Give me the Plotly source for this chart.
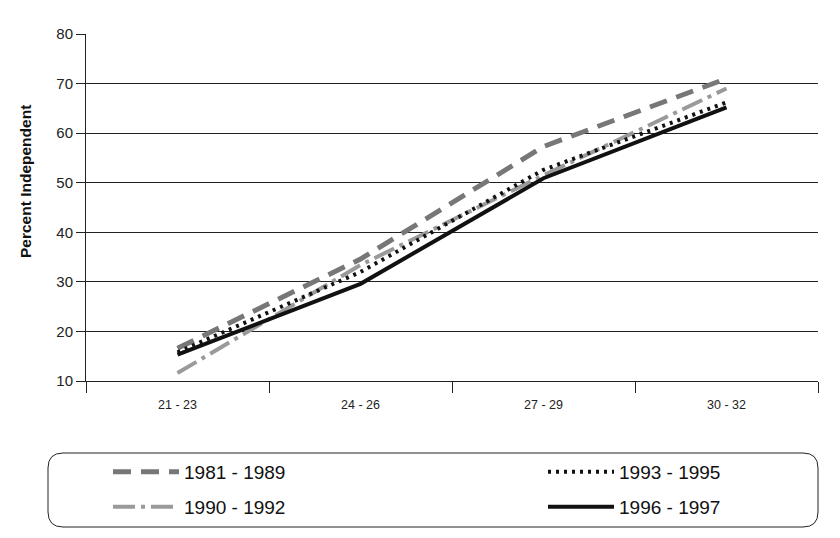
import plotly.graph_objects as go

categories = ["21 - 23", "24 - 26", "27 - 29", "30 - 32"]
s1981_1989 = [16.6, 34.6, 57.3, 71.0]
s1990_1992 = [11.6, 33.4, 51.5, 69.0]
s1993_1995 = [15.8, 32.0, 52.6, 66.2]
s1996_1997 = [15.3, 29.6, 50.9, 65.2]
y_title = "Percent Independent"

series = [
    ("1981 - 1989", s1981_1989, dict(color="#777777", width=5, dash="18px,10px"), "legend"),
    ("1990 - 1992", s1990_1992, dict(color="#9a9a9a", width=4, dash="22px,6px,4px,6px"), "legend3"),
    ("1993 - 1995", s1993_1995, dict(color="#111111", width=4, dash="3px,5px"), "legend2"),
    ("1996 - 1997", s1996_1997, dict(color="#111111", width=4), "legend4"),
]

fig = go.Figure()
for name, vals, line, lg in series:
    fig.add_trace(go.Scatter(x=categories, y=vals, name=name, mode="lines",
                             line=line, legend=lg, showlegend=True))

# page offset of 8px (body margin) compensated in margins
# paper coords: x 0->86px, 1->818px ; y 0->381px, 1->34px (page coords)
def px_x(p):
    return (p - 86) / 732.0
def px_y(p):
    return (381 - p) / 347.0

x0, x1 = px_x(48), px_x(818)
y0, y1 = px_y(527), px_y(453)
rx, ry = 15 / 732.0, 15 / 347.0
path = (f"M{x0+rx},{y1} L{x1-rx},{y1} Q{x1},{y1} {x1},{y1-ry} "
        f"L{x1},{y0+ry} Q{x1},{y0} {x1-rx},{y0} L{x0+rx},{y0} "
        f"Q{x0},{y0} {x0},{y0+ry} L{x0},{y1-ry} Q{x0},{y1} {x0+rx},{y1} Z")
fig.add_shape(type="path", path=path, xref="paper", yref="paper",
              line=dict(color="#222222", width=1))

fig.add_annotation(text=f"<b>{y_title}</b>", xref="paper", yref="paper",
                   x=px_x(25), y=px_y(182), textangle=-90, showarrow=False,
                   xanchor="center", yanchor="middle",
                   font=dict(size=15.5, color="#111111"))

legfont = dict(family="Liberation Sans, Arial, sans-serif", size=19, color="#111111")
def leg(xp, yp):
    return dict(x=px_x(xp), y=px_y(yp), xanchor="left", yanchor="middle",
                bgcolor="rgba(0,0,0,0)", borderwidth=0, font=legfont,
                itemwidth=66, orientation="v", visible=True)

fig.update_layout(
    width=840, height=538,
    showlegend=True,
    margin=dict(l=78, r=30, t=26, b=165, autoexpand=False),
    paper_bgcolor="white", plot_bgcolor="white",
    font=dict(family="Liberation Sans, Arial, sans-serif", color="#111111"),
    legend=leg(108, 472),
    legend2=leg(543, 472),
    legend3=leg(108, 507),
    legend4=leg(543, 507),
    xaxis=dict(type="category", tickson="boundaries", ticks="outside", ticklen=11,
               tickcolor="#222222", showline=True, linecolor="#222222", linewidth=1,
               showgrid=False, tickfont=dict(size=12.5, color="#222222"),
               ticklabelstandoff=12, range=[-0.5, 3.5]),
    yaxis=dict(range=[10, 80], dtick=10, ticks="outside", ticklen=9,
               tickcolor="#222222", showline=True, linecolor="#222222", linewidth=1,
               showgrid=True, gridcolor="#222222", gridwidth=1, zeroline=False,
               tickfont=dict(size=15, color="#222222")),
)

fig.write_html("out.html")
